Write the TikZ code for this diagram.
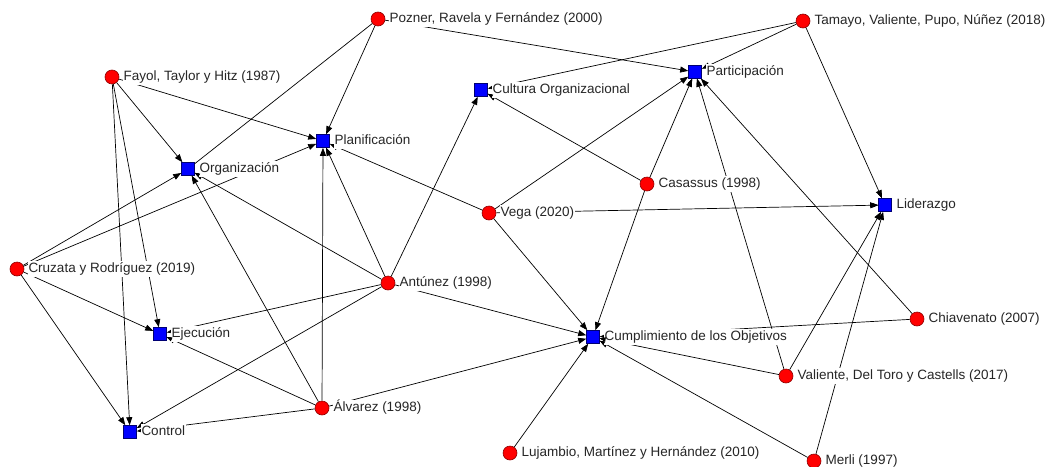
\documentclass[tikz,border=0pt]{standalone}
\usepackage{fontspec}
\setmainfont{Liberation Sans}
\usetikzlibrary{arrows.meta}
\tikzset{
  actor/.style={circle, fill=red, draw=red!55!black, line width=0.6pt, minimum size=14pt, inner sep=0pt},
  concept/.style={rectangle, fill=blue, draw=blue!45!black, line width=0.6pt, minimum size=13pt, inner sep=0pt},
  lbl/.style={anchor=west, fill=white, inner xsep=1pt, inner ysep=1.5pt, text height=10pt, text depth=3pt, font=\fontsize{13.5}{15}\selectfont, text=black!85},
  edge/.style={draw=black, line width=0.7pt, -{Triangle[length=8pt,width=6pt]}},
  plain/.style={draw=black, line width=0.7pt},
}
\newcommand\tipover[2]{\begin{scope}\clip (#2) circle (13pt); \draw[edge] (#1) -- (#2); \end{scope}}
\begin{document}
\begin{tikzpicture}[x=1pt,y=-1pt]
\useasboundingbox (0,0) rectangle (1048,466);
% actors
\node[actor] (fayol) at (112,77) {};
\node[actor] (pozner) at (378,19) {};
\node[actor] (tamayo) at (803,21) {};
\node[actor] (cruzata) at (17,269) {};
\node[actor] (antunez) at (388,283) {};
\node[actor] (vega) at (489,213) {};
\node[actor] (casassus) at (647,184) {};
\node[actor] (alvarez) at (322,408) {};
\node[actor] (lujambio) at (510,453) {};
\node[actor] (chiavenato) at (917,319) {};
\node[actor] (valiente) at (786,376) {};
\node[actor] (merli) at (814,461) {};
% concepts
\node[concept] (org) at (188,169) {};
\node[concept] (plan) at (323,141) {};
\node[concept] (cult) at (481,90) {};
\node[concept] (part) at (695,72) {};
\node[concept] (lid) at (885,205) {};
\node[concept] (ejec) at (160,334) {};
\node[concept] (ctrl) at (130,432) {};
\node[concept] (cump) at (593,337) {};
% edges
\draw[edge] (fayol) -- (org);
\draw[edge] (fayol) -- (plan);
\draw[edge] (fayol) -- (ejec);
\draw[edge] (fayol) -- (ctrl);
\draw[plain] (pozner) -- (org);
\draw[edge] (pozner) -- (plan);
\draw[edge] (pozner) -- (part);
\draw[edge] (tamayo) -- (cult);
\draw[edge] (tamayo) -- (part);
\draw[edge] (tamayo) -- (lid);
\draw[edge] (cruzata) -- (org);
\draw[edge] (cruzata) -- (plan);
\draw[edge] (cruzata) -- (ejec);
\draw[edge] (cruzata) -- (ctrl);
\draw[edge] (antunez) -- (org);
\draw[edge] (antunez) -- (plan);
\draw[edge] (antunez) -- (cult);
\draw[edge] (antunez) -- (ejec);
\draw[edge] (antunez) -- (ctrl);
\draw[edge] (antunez) -- (cump);
\draw[edge] (alvarez) -- (org);
\draw[edge] (alvarez) -- (plan);
\draw[edge] (alvarez) -- (ejec);
\draw[edge] (alvarez) -- (ctrl);
\draw[edge] (alvarez) -- (cump);
\draw[edge] (vega) -- (plan);
\draw[edge] (vega) -- (part);
\draw[edge] (vega) -- (lid);
\draw[edge] (vega) -- (cump);
\draw[edge] (casassus) -- (cult);
\draw[edge] (casassus) -- (part);
\draw[edge] (casassus) -- (cump);
\draw[edge] (chiavenato) -- (part);
\draw[edge] (chiavenato) -- (cump);
\draw[edge] (valiente) -- (part);
\draw[edge] (valiente) -- (lid);
\draw[edge] (valiente) -- (cump);
\draw[edge] (merli) -- (lid);
\draw[edge] (merli) -- (cump);
\draw[edge] (lujambio) -- (cump);
% labels
\node[lbl] (fayolL) at ([xshift=3pt]fayol.east) {Fayol, Taylor y Hitz (1987)};
\node[lbl] (poznerL) at ([xshift=3pt]pozner.east) {Pozner, Ravela y Fernández (2000)};
\node[lbl] (tamayoL) at ([xshift=3pt]tamayo.east) {Tamayo, Valiente, Pupo, Núñez (2018)};
\node[lbl] (cruzataL) at ([xshift=3pt]cruzata.east) {Cruzata y Rodríguez (2019)};
\node[lbl] (antunezL) at ([xshift=3pt]antunez.east) {Antúnez (1998)};
\node[lbl] (vegaL) at ([xshift=3pt]vega.east) {Vega (2020)};
\node[lbl] (casassusL) at ([xshift=3pt]casassus.east) {Casassus (1998)};
\node[lbl] (alvarezL) at ([xshift=3pt]alvarez.east) {Álvarez (1998)};
\node[lbl] (lujambioL) at ([xshift=3pt]lujambio.east) {Lujambio, Martínez y Hernández (2010)};
\node[lbl] (chiavenatoL) at ([xshift=3pt]chiavenato.east) {Chiavenato (2007)};
\node[lbl] (valienteL) at ([xshift=3pt]valiente.east) {Valiente, Del Toro y Castells (2017)};
\node[lbl] (merliL) at ([xshift=3pt]merli.east) {Merli (1997)};
\node[lbl] (orgL) at ([xshift=3.5pt]org.east) {Organización};
\node[lbl] (planL) at ([xshift=3.5pt]plan.east) {Planificación};
\node[lbl] (cultL) at ([xshift=3.5pt]cult.east) {Cultura Organizacional};
\node[lbl] (partL) at ([xshift=3.5pt]part.east) {Participación};
\node[lbl] (lidL) at ([xshift=3.5pt]lid.east) {Liderazgo};
\node[lbl] (ejecL) at ([xshift=3.5pt]ejec.east) {Ejecución};
\node[lbl] (ctrlL) at ([xshift=3.5pt]ctrl.east) {Control};
\node[lbl] (cumpL) at ([xshift=3.5pt]cump.east) {Cumplimiento de los Objetivos};
% arrow tips that stay visible above the labels
\tipover{antunez}{org}
\tipover{alvarez}{org}
\tipover{antunez}{plan}
\tipover{casassus}{cult}
\tipover{casassus}{part}
\tipover{chiavenato}{part}
\tipover{valiente}{part}
\tipover{alvarez}{ejec}
\tipover{valiente}{cump}
\tipover{merli}{cump}
\tipover{tamayo}{lid}
\tipover{vega}{lid}
\end{tikzpicture}
\end{document}
